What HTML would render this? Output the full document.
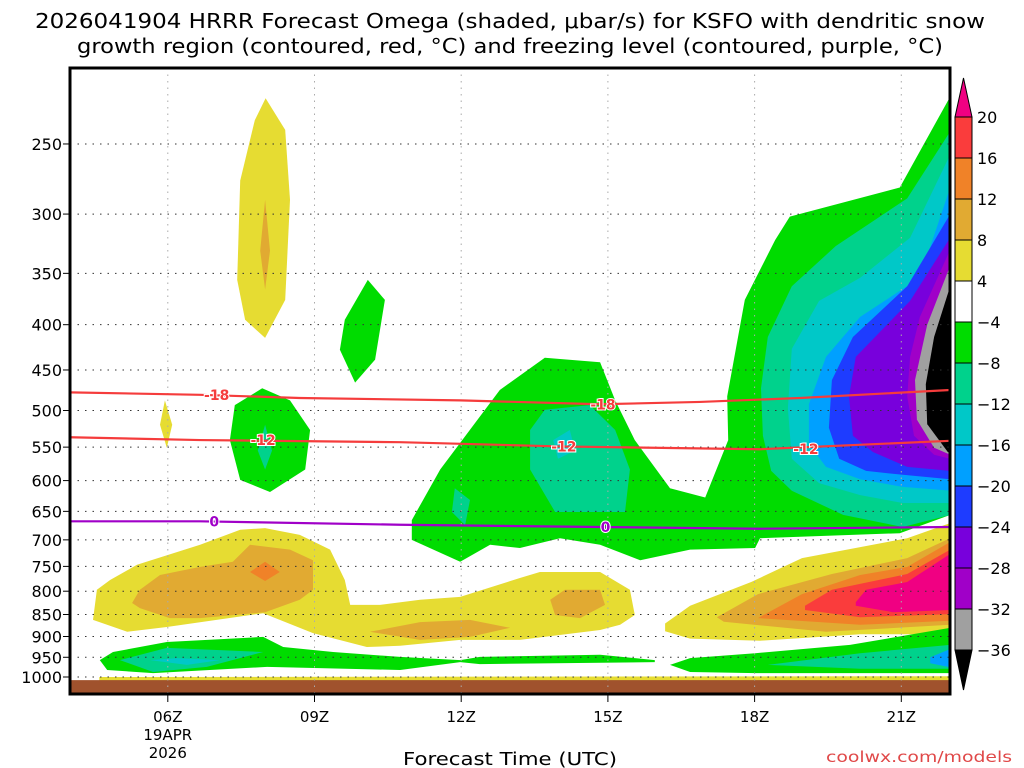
<!DOCTYPE html>
<html><head><meta charset="utf-8"><style>
body{margin:0;background:#fff;}
svg{display:block;font-family:"DejaVu Sans","Liberation Sans",sans-serif;}
</style></head><body>
<svg id="chart" width="1024" height="768" viewBox="0 0 1024 768" xmlns="http://www.w3.org/2000/svg">
<defs><clipPath id="pc"><rect x="70" y="68" width="880" height="626"/></clipPath></defs>
<text x="510" y="28" text-anchor="middle" font-size="20" textLength="950" lengthAdjust="spacingAndGlyphs">2026041904 HRRR Forecast Omega (shaded, μbar/s) for KSFO with dendritic snow</text>
<text x="510" y="53" text-anchor="middle" font-size="20" textLength="866" lengthAdjust="spacingAndGlyphs">growth region (contoured, red, °C) and freezing level (contoured, purple, °C)</text>
<g id="fills" clip-path="url(#pc)"></g>
<g id="grid"></g>
<g id="lines" clip-path="url(#pc)"></g>
<rect x="70" y="68" width="880" height="626" fill="none" stroke="#000" stroke-width="3"/>
<g id="axes"></g>
<g id="cbar"></g>
<text x="510" y="765" text-anchor="middle" font-size="18" textLength="214" lengthAdjust="spacingAndGlyphs">Forecast Time (UTC)</text>
<text x="1012" y="762" text-anchor="end" font-size="15" fill="#e04848" textLength="186" lengthAdjust="spacingAndGlyphs">coolwx.com/models</text>
</svg>
<script>
const pressureTicks=[250,300,350,400,450,500,550,600,650,700,750,800,850,900,950,1000];
const hourTicks=[6,9,12,15,18,21];
const hourLabels=["06Z","09Z","12Z","15Z","18Z","21Z"];
const cbarValues=[20,16,12,8,4,-4,-8,-12,-16,-20,-24,-28,-32,-36];
const cbarColors=["#fa3c3c","#f08228","#e1aa32","#e6dc32","#ffffff","#00dc00","#00d28c","#00c8c8","#00a0ff","#1e3cff","#7800dc","#a000c8","#a0a0a0"];

const upperYellow=[[8,222],[8.4,241],[8.5,289],[8.4,375],[7.99,414],[7.58,395],[7.42,356],[7.48,275],[7.78,235]];
const upperGold=[[7.99,289],[8.09,330],[7.99,365],[7.89,330]];
const green10z=[[10.09,356],[10.44,375],[10.24,438],[9.83,465],[9.52,427],[9.62,395]];
const green08z=[[7.93,472],[8.5,487],[8.91,526],[8.81,583],[8.09,618],[7.48,599],[7.27,540],[7.37,493]];
const teal08z=[[7.99,519],[8.13,555],[7.99,583],[7.84,555]];
const yellow06z=[[5.94,487],[6.09,519],[5.98,551],[5.84,519]];
const greenMain=[[10.99,700],[10.99,665],[11.57,583],[12.79,474],[13.71,436],[14.84,441],[15.15,487],[15.55,540],[16.27,612],[16.99,627],[17.46,540],[17.44,482],[17.8,375],[18.42,321],[18.72,302],[20.97,280],[22,221],[22,656],[20.97,688],[18.11,697],[18.01,715],[16.68,718],[15.66,738],[14.84,709],[14.02,697],[13.2,715],[12.59,709],[11.98,741]];
const tealMid=[[13.71,499],[14.63,493],[15.15,526],[15.45,583],[15.35,651],[13.92,651],[13.41,583],[13.41,526]];
const cyanMid=[[13.88,540],[14.22,526],[14.33,555],[13.98,567]];
const teal12z=[[11.87,612],[12.18,631],[12.08,674],[11.81,651]];
const rTeal=[[22,242],[21.12,288],[19.66,326],[18.76,362],[18.27,413],[18.13,472],[18.17,534],[18.34,585],[18.76,616],[19.81,656],[21.03,677],[22,656]];
const rCyan=[[22,257],[21.18,319],[20.16,354],[19.32,376],[18.76,426],[18.68,497],[18.76,567],[19.32,604],[20.16,623],[21.03,636],[22,636]];
const rLight=[[22,280],[21.38,354],[20.16,392],[19.46,435],[19.11,492],[19.11,546],[19.46,579],[20.16,598],[21.03,610],[22,616]];
const rBlue=[[22,300],[21.12,362],[20.01,413],[19.58,462],[19.52,523],[19.73,567],[20.28,585],[21.03,591],[22,598]];
const rPurple=[[22,319],[21.18,376],[20.07,435],[19.93,482],[20.01,534],[20.42,557],[21.12,579],[22,585]];
const rViolet=[[22,329],[21.38,392],[21.18,435],[21.12,482],[21.26,534],[21.67,561],[22,567]];
const rGray=[[22,343],[21.53,400],[21.28,462],[21.32,512],[21.67,551],[22,561]];
const rBlack=[[22,362],[21.67,413],[21.5,467],[21.53,518],[21.95,557],[22,558]];
const lowYellow=[[4.55,797],[4.82,777],[5.37,747],[6.66,709],[7.48,682],[7.99,679],[8.7,691],[9.32,718],[9.62,777],[9.73,829],[10.34,829],[11.16,818],[11.98,812],[13.2,773],[13.61,761],[14.84,761],[15.45,797],[15.55,851],[15.25,873],[14.84,885],[13.2,908],[11.98,908],[10.75,922],[10.07,925],[8.97,892],[7.95,847],[5.98,878],[5.17,889],[4.47,862]];
const lowGold=[[5.27,825],[5.43,797],[5.84,767],[6.66,751],[7.33,741],[7.68,709],[8.5,718],[8.97,738],[8.97,797],[8.7,818],[7.99,845],[6.66,858],[6.04,858],[5.43,836]];
const lowOrange=[[7.68,761],[7.99,741],[8.29,761],[7.99,779]];
const gold12z=[[10.13,889],[11.16,867],[12.18,862],[13,880],[12.18,901],[11.16,908]];
const gold14z=[[13.82,818],[14.12,797],[14.84,797],[14.94,829],[14.43,858],[13.92,851]];
const rYellow=[[16.17,870],[16.68,831],[17.93,781],[18.97,734],[21.12,697],[22,670],[22,895],[20.16,895],[18.11,910],[16.68,905],[16.17,888]];
const rGold=[[17.23,856],[18.07,806],[19.58,765],[21.12,734],[22,697],[22,873],[19.46,889],[17.37,866]];
const rOrange=[[18.07,858],[18.97,806],[20.16,767],[21.12,751],[22,704],[22,864],[20.16,873]];
const rRed=[[19.03,831],[19.58,797],[21.12,765],[22,718],[22,849],[20.16,856],[19.03,840]];
const rMagenta=[[20.07,823],[20.28,797],[21.12,781],[22,726],[22,840],[20.83,845],[20.07,831]];
const bandLeft=[[4.61,957],[4.88,937],[5.98,913],[7.95,901],[8.36,925],[9.38,937],[10.75,949],[11.98,957],[12.38,949],[14.84,944],[15.96,957],[15.96,962],[12.38,967],[11.98,962],[10.75,982],[8.03,974],[5.7,990],[4.76,982]];
const bandLeftTeal=[[5.02,957],[5.98,927],[7.95,937],[6.8,974],[5.7,987]];
const bandLeftCyan=[[5.64,957],[6.19,952],[7.07,957],[6.39,969]];
const bandRight=[[16.27,969],[16.68,952],[18.01,940],[19.95,920],[22,880],[22,990],[18.01,990],[16.68,987]];
const bandRightTeal=[[18.27,969],[20.16,940],[22,920],[22,979],[20.16,979]];
const bandRightBlue=[[21.59,950],[22,930],[22,975],[21.59,965]];
const groundYellow=[[4.6,1000],[22,998],[22,1010],[4.6,1010]];
const ground=[[3.9,1008],[22.1,1008],[22.1,1050],[3.9,1050]];

const dgzMinus18=[[4,477],[6.66,480],[8.7,484],[11.98,487],[14.84,492],[16.88,489],[18.93,484],[22,474]];
const dgzMinus12=[[4,536],[6.66,540],[10.75,543],[14.02,549],[18.11,553],[22,541]];
const freezing0=[[4,667],[6.66,667],[10.75,673],[14.84,677],[18.11,680],[22,677]];
const labels18=[[7,480],[14.9,492]];
const labels12=[[7.95,540],[14.1,549],[19.05,553]];
const labels0=[[6.95,667],[14.95,677]];

const NS="http://www.w3.org/2000/svg";
function X(h){return 70+(h-4)*48.9;}
function Y(p){return 677+384.5*Math.log(p/1000);}
function mk(tag,parent,attrs){const e=document.createElementNS(NS,tag);for(const k in attrs)e.setAttribute(k,attrs[k]);parent.appendChild(e);return e;}
const fills=document.getElementById('fills');
const layers=[[upperYellow,"#e6dc32","upper-yellow"],[upperGold,"#e1aa32","upper-gold"],[green10z,"#00dc00","green-10z"],[green08z,"#00dc00","green-08z"],[teal08z,"#00d28c","teal-08z"],[yellow06z,"#e6dc32","yellow-06z"],
[greenMain,"#00dc00","green-main"],[tealMid,"#00d28c","teal-mid"],[cyanMid,"#00c8c8","cyan-mid"],[teal12z,"#00d28c","teal-12z"],
[rTeal,"#00d28c","r-teal"],[rCyan,"#00c8c8","r-cyan"],[rLight,"#00a0ff","r-lightblue"],[rBlue,"#1e3cff","r-blue"],[rPurple,"#7800dc","r-purple"],[rViolet,"#a000c8","r-violet"],[rGray,"#a0a0a0","r-gray"],[rBlack,"#000000","r-black"],
[lowYellow,"#e6dc32","low-yellow"],[lowGold,"#e1aa32","low-gold"],[lowOrange,"#f08228","low-orange"],[gold12z,"#e1aa32","gold-12z"],[gold14z,"#e1aa32","gold-14z"],
[rYellow,"#e6dc32","r-yellow"],[rGold,"#e1aa32","r-gold"],[rOrange,"#f08228","r-orange"],[rRed,"#fa3c3c","r-red"],[rMagenta,"#f00082","r-magenta"],
[bandLeft,"#00dc00","band-left"],[bandLeftTeal,"#00d28c","band-left-teal"],[bandLeftCyan,"#00c8c8","band-left-cyan"],[bandRight,"#00dc00","band-right"],[bandRightTeal,"#00d28c","band-right-teal"],[bandRightBlue,"#00a0ff","band-right-blue"],
[groundYellow,"#e6dc32","ground-yellow"],[ground,"#a0522d","ground"]];
layers.forEach(L=>{
  const el=mk('polygon',fills,{points:L[0].map(q=>X(q[0]).toFixed(1)+","+Y(q[1]).toFixed(1)).join(" "),fill:L[1]});
  
  
});
const grid=document.getElementById('grid');
pressureTicks.forEach(p=>{
  const l=mk('line',grid,{x1:70,x2:950,y1:Y(p),y2:Y(p),stroke:"#333","stroke-dasharray":"1.5,6"});
  
  
});
hourTicks.forEach(h=>{
  const l=mk('line',grid,{x1:X(h),x2:X(h),y1:68,y2:694,stroke:"#aaa","stroke-dasharray":"1.5,5"});
  
  
});
const lines=document.getElementById('lines');
function curve(arr,color,name){
  const e=mk('polyline',lines,{points:arr.map(q=>X(q[0])+","+Y(q[1])).join(" "),fill:"none",stroke:color,"stroke-width":2.2});
  
  
}
curve(dgzMinus18,"#f53c3c","contour-minus18");
curve(dgzMinus12,"#f53c3c","contour-minus12");
curve(freezing0,"#a000c8","freezing-level-0");
function lbl(arr,txt,color,name){arr.forEach(q=>{
  const t=mk('text',lines,{x:X(q[0]),y:Y(q[1])+5,"text-anchor":"middle","font-size":14,"font-weight":"bold",fill:color,stroke:"#fff","stroke-width":2,"paint-order":"stroke"});
  t.textContent=txt;
  
  
});}
lbl(labels18,"-18","#f53c3c","label-minus18");
lbl(labels12,"-12","#f53c3c","label-minus12");
lbl(labels0,"0","#a000c8","label-0");
const axes=document.getElementById('axes');
pressureTicks.forEach(p=>{
  const t=mk('text',axes,{x:62,y:Y(p)+6,"text-anchor":"end","font-size":16});
  t.textContent=p;
  
  
  const k=mk('line',axes,{x1:63,x2:70,y1:Y(p),y2:Y(p),stroke:"#000","stroke-width":1});
  
  
});
hourTicks.forEach((h,i)=>{
  const k=mk('line',axes,{x1:X(h),x2:X(h),y1:694,y2:702,stroke:"#000"});
  
  
  const t=mk('text',axes,{x:X(h),y:722,"text-anchor":"middle","font-size":15});
  t.textContent=hourLabels[i];
  
  
});
[["19APR",740],["2026",758]].forEach(d=>{
  const t=mk('text',axes,{x:X(6),y:d[1],"text-anchor":"middle","font-size":15});
  t.textContent=d[0];
  
  
});
const cb=document.getElementById('cbar');
const cTop=117,cStep=41,cx0=955,cw=17;
const tri=mk('polygon',cb,{points:`${cx0},${cTop} ${cx0+cw},${cTop} ${cx0+cw/2},78`,fill:"#f00082",stroke:"#000"});


cbarColors.forEach((c,i)=>{
  const r=mk('rect',cb,{x:cx0,y:cTop+i*cStep,width:cw,height:cStep,fill:c,stroke:"#000"});
  
  
});
const bot=cTop+cbarColors.length*cStep;
const tri2=mk('polygon',cb,{points:`${cx0},${bot} ${cx0+cw},${bot} ${cx0+cw/2},690`,fill:"#000",stroke:"#000"});


cbarValues.forEach((v,i)=>{
  const t=mk('text',cb,{x:977,y:cTop+i*cStep+6,"font-size":16});
  t.textContent=v<0?"\u2212"+(-v):String(v);
  
  
});
</script>
</body></html>
